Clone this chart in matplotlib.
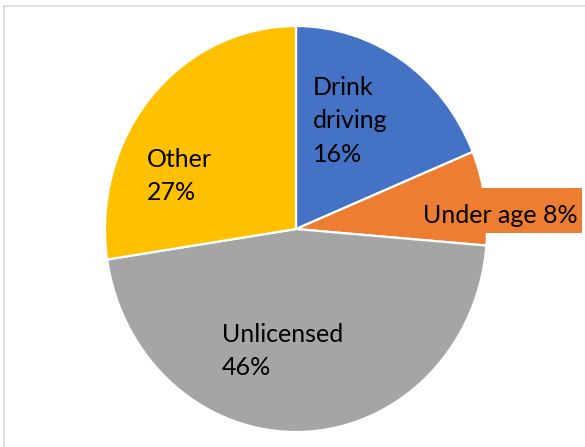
import matplotlib.pyplot as plt
from matplotlib.lines import Line2D
from matplotlib.patches import Rectangle

# slice shares, clockwise from 12 o'clock
categories = ['Drink driving', 'Under age', 'Unlicensed', 'Other']
shares = [18.8, 7.5, 46.3, 27.4]
# percentages printed on the chart
shown_pct = [16, 8, 46, 27]
colors = ['#4472C4', '#ED7D31', '#A5A5A5', '#FFC000']

W, H = 585, 447
FONT = 'Lato'
FS = 18


def fx(x):
    return x / W


def fy(y):
    return 1 - y / H


fig = plt.figure(figsize=(W / 100, H / 100), dpi=100)
fig.patch.set_facecolor('white')

# light frame of the chart area (top and left edges visible)
frame = '#D9D9D9'
fig.add_artist(Line2D([fx(4), 1], [fy(6), fy(6)], color=frame, lw=1.2))
fig.add_artist(Line2D([fx(4), fx(4)], [fy(6), 0], color=frame, lw=1.2))

# pie area: slightly taller than wide, as in the original
ax = fig.add_axes([fx(105), fy(432), (487 - 105) / W, (432 - 26) / H])
ax.pie(shares, colors=colors, startangle=90, counterclock=False,
       wedgeprops=dict(edgecolor='white', linewidth=1.6))
ax.set_aspect('auto')
ax.set_xlim(-1, 1)
ax.set_ylim(-1, 1)

# data labels
lbl = dict(family=FONT, fontsize=FS, color='black', ha='left',
           va='top', linespacing=1.55)
fig.text(fx(313), fy(76), f'Drink\ndriving\n{shown_pct[0]}%', **lbl)
fig.text(fx(147), fy(148), f'{categories[3]}\n{shown_pct[3]}%', **lbl)
fig.text(fx(222), fy(323), f'{categories[2]}\n{shown_pct[2]}%', **lbl)

# the under-age label sits outside in a filled box
fig.add_artist(Rectangle((fx(413), fy(233)), (582 - 413) / W, 45 / H,
                         facecolor=colors[1], edgecolor='none'))
fig.text(fx(423), fy(223), f'{categories[1]} {shown_pct[1]}%',
         family=FONT, fontsize=FS, color='black', ha='left', va='baseline')

fig.savefig('out.png', dpi=100)
